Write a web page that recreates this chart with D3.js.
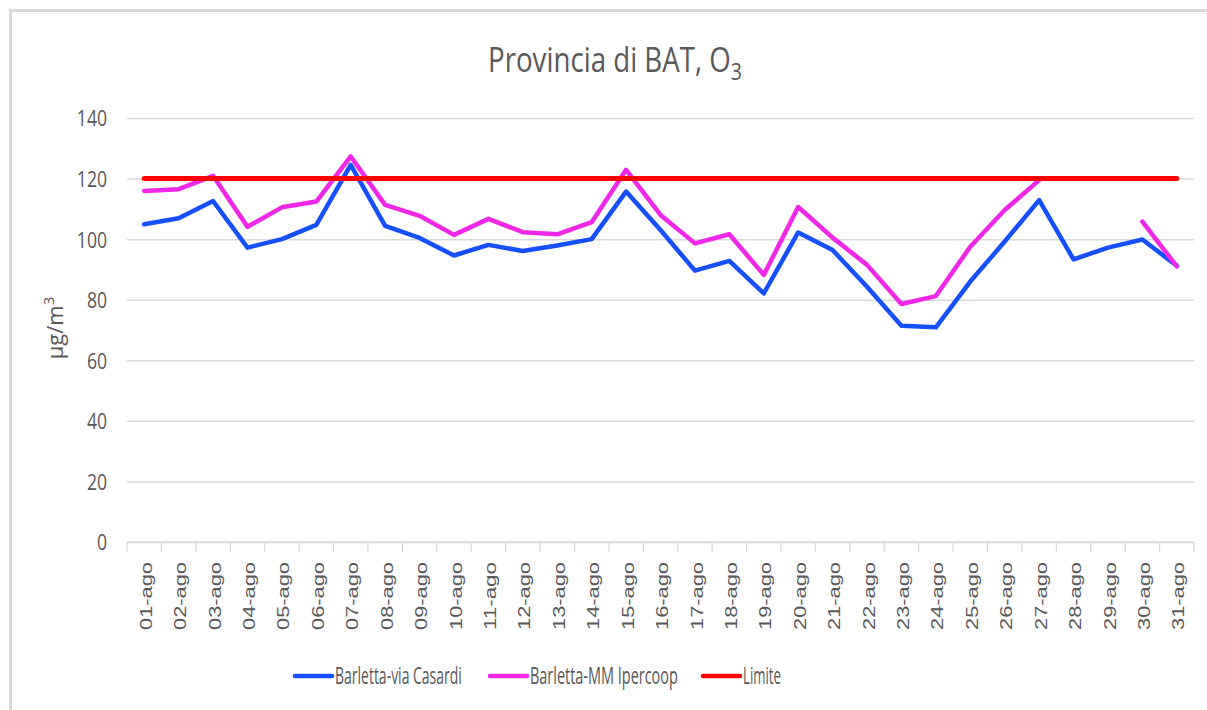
<!DOCTYPE html>
<html><head><meta charset="utf-8">
<script src="https://cdn.jsdelivr.net/npm/d3@7"></script>
<style>
html,body{margin:0;padding:0;background:#fff;}
svg{display:block;}
</style></head>
<body>
<svg id="chart" width="1207" height="710"></svg>
<script>
const categories = ["01-ago","02-ago","03-ago","04-ago","05-ago","06-ago","07-ago","08-ago","09-ago","10-ago",
"11-ago","12-ago","13-ago","14-ago","15-ago","16-ago","17-ago","18-ago","19-ago","20-ago",
"21-ago","22-ago","23-ago","24-ago","25-ago","26-ago","27-ago","28-ago","29-ago","30-ago","31-ago"];
const casardi = [104.9,106.9,112.6,97.2,100.0,104.7,124.5,104.4,100.4,94.6,
98.1,96.1,97.9,100.0,115.7,103.0,89.6,92.8,82.1,102.2,
96.4,84.3,71.4,70.9,86.0,99.2,112.9,93.3,97.2,99.9,91.2];
const ipercoop = [115.9,116.5,120.9,104.1,110.5,112.4,127.3,111.3,107.7,101.4,
106.7,102.3,101.6,105.6,122.9,108.0,98.6,101.6,88.2,110.6,
100.5,91.5,78.6,81.2,97.5,109.6,119.5,null,null,105.8,91.0];
const limite = categories.map(() => 120);
const yTicks = [0,20,40,60,80,100,120,140];
const seriesNames = ["Barletta-via Casardi","Barletta-MM Ipercoop","Limite"];
const seriesColors = ["#1550ff","#f027e6","#ff0000"];

(function(){
const svg = d3.select("#chart");
const FONT = "'Open Sans',sans-serif";
const TXT = "#595959";

// squeeze a (non-rotated) text element horizontally to a target width, anchored at ax
function fitWidth(node, target, ax){
  const w = node.getBBox().width;
  const s = target / w;
  d3.select(node).attr("transform", `translate(${ax},0) scale(${s},1) translate(${-ax},0)`);
}

// outer border (top/left visible)
svg.append("line").attr("x1",9).attr("x2",1207).attr("y1",10.5).attr("y2",10.5).attr("stroke","#d9d9d9").attr("stroke-width",3);
svg.append("line").attr("x1",10.5).attr("x2",10.5).attr("y1",9).attr("y2",710).attr("stroke","#d9d9d9").attr("stroke-width",3);

const pL = 127, pR = 1194, pT = 118, pB = 542;
const x = d3.scaleBand().domain(categories).range([pL,pR]).padding(0);
const y = d3.scaleLinear().domain([0,140]).range([pB,pT]);
const cx = d => x(d) + x.bandwidth()/2;

// gridlines + y labels
const yAxis = d3.axisLeft(y).tickValues(yTicks).tickSize(-(pR-pL)).tickPadding(20);
const gy = svg.append("g").attr("transform",`translate(${pL},0)`).call(yAxis);
gy.select(".domain").remove();
gy.selectAll(".tick line").attr("stroke","#d9d9d9").attr("stroke-width",1.5);
gy.selectAll(".tick text").attr("fill",TXT).attr("font-family",FONT).attr("font-size",22)
  .attr("x",-20).attr("dy","0.36em")
  .attr("transform","translate(-20,0) scale(0.8,1) translate(20,0)");

// x axis ticks at band edges
const gx = svg.append("g").attr("transform",`translate(0,${pB})`);
gx.append("line").attr("x1",pL).attr("x2",pR).attr("stroke","#d9d9d9").attr("stroke-width",1.5);
const edges = categories.map(c => x(c)).concat([pR]);
gx.selectAll("line.tk").data(edges).enter().append("line").attr("class","tk")
  .attr("x1",d=>d).attr("x2",d=>d).attr("y1",0).attr("y2",10).attr("stroke","#d9d9d9").attr("stroke-width",1.2);
const xAxis = d3.axisBottom(x).tickSize(0).tickPadding(0);
const gxa = svg.append("g").attr("transform",`translate(0,${pB})`).call(xAxis);
gxa.select(".domain").remove();
gxa.selectAll(".tick text")
  .attr("transform","rotate(-90)")
  .attr("x",-20).attr("y",2).attr("dy","0.35em")
  .attr("text-anchor","end")
  .attr("textLength",68).attr("lengthAdjust","spacingAndGlyphs")
  .attr("fill",TXT).attr("font-family","'Liberation Sans','Arial',sans-serif").attr("font-size",16);

// lines
const line = d3.line().defined(d => d.v != null).x(d => cx(d.c)).y(d => y(d.v));
const data = [casardi, ipercoop, limite];
data.forEach((arr,i) => {
  svg.append("path")
    .datum(categories.map((c,j)=>({c:c,v:arr[j]})))
    .attr("d",line).attr("fill","none")
    .attr("stroke",seriesColors[i]).attr("stroke-width",i===2?5:4.5)
    .attr("stroke-linejoin","round").attr("stroke-linecap","round");
});

// title
const title = svg.append("text").attr("x",488).attr("y",72).attr("text-anchor","start")
  .attr("fill",TXT).attr("font-family",FONT).attr("font-size",34);
title.append("tspan").text("Provincia di BAT, O");
title.append("tspan").attr("font-size",24).attr("dy",8).text("3");
fitWidth(title.node(), 254, 488);

// y label
const yl = svg.append("text").attr("transform","translate(63,328) rotate(-90)").attr("text-anchor","middle")
  .attr("fill",TXT).attr("font-family",FONT).attr("font-size",22);
yl.append("tspan").text("μg/m");
yl.append("tspan").attr("font-size",15).attr("dy",-9).text("3");

// legend
const legX = [295, 490, 703];
const legW = [127, 148, 38];
const lg = svg.append("g");
seriesNames.forEach((n,i) => {
  lg.append("line").attr("x1",legX[i]).attr("x2",legX[i]+37).attr("y1",676).attr("y2",676)
    .attr("stroke",seriesColors[i]).attr("stroke-width",4.5).attr("stroke-linecap","round");
  const t = lg.append("text").attr("x",legX[i]+40).attr("y",684).attr("fill",TXT)
    .attr("font-family",FONT).attr("font-size",24).text(n);
  fitWidth(t.node(), legW[i], legX[i]+40);
});
})();
</script>
</body></html>
